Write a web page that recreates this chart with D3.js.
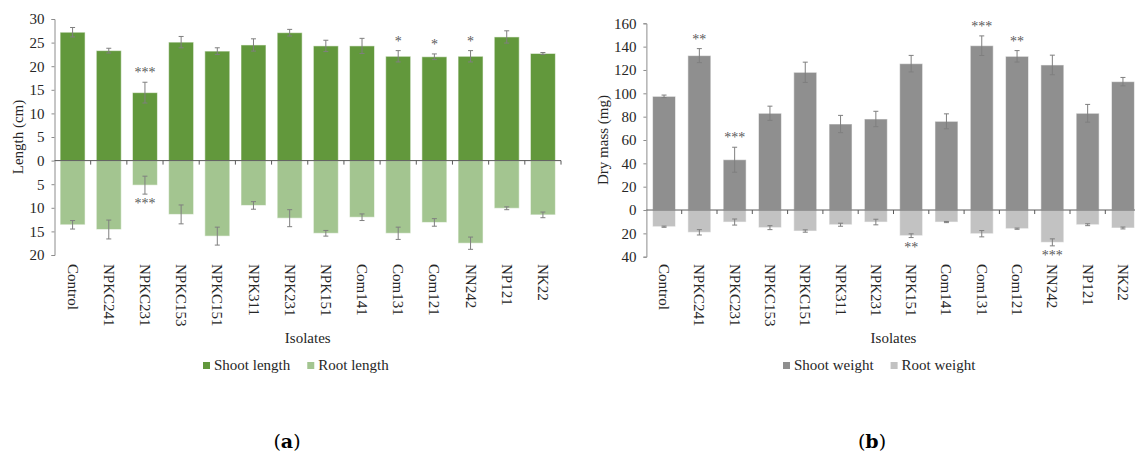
<!DOCTYPE html>
<html>
<head>
<meta charset="utf-8">
<script src="https://cdn.jsdelivr.net/npm/d3@7"></script>
<style>
    body { margin: 0; background: #fff; }
    svg text { font-family: "Liberation Serif", "Times New Roman", serif; }
    svg text.panel-letter { font-family: "DejaVu Serif", serif; font-size: 19px; fill: #000; }
    .tick-label { font-size: 15px; fill: #262626; }
    .cat-label { font-size: 15px; fill: #262626; }
    .axis-title { font-size: 15px; fill: #262626; }
    .legend-text { font-size: 15px; fill: #262626; }
    .sig { font-size: 14px; fill: #595959; }
</style>
</head>
<body>
<script>
var isolates = ['Control', 'NPKC241', 'NPKC231', 'NPKC153', 'NPKC151', 'NPK311', 'NPK231',
    'NPK151', 'Com141', 'Com131', 'Com121', 'NN242', 'NP121', 'NK22'];

// (a) lengths, cm
var shootLength    = [27.2, 23.3, 14.4, 25.1, 23.2, 24.5, 27.1, 24.3, 24.3, 22.1, 22.0, 22.1, 26.2, 22.7];
var shootLengthErr = [1.0, 0.5, 2.2, 1.2, 0.7, 1.3, 0.7, 1.2, 1.6, 1.2, 0.6, 1.2, 1.3, 0.2];
var rootLength     = [13.6, 14.6, 5.2, 11.4, 16.0, 9.5, 12.2, 15.4, 12.0, 15.4, 13.1, 17.5, 10.1, 11.5];
var rootLengthErr  = [0.9, 2.0, 1.9, 2.0, 1.9, 0.8, 1.8, 0.6, 0.7, 1.3, 0.8, 1.3, 0.3, 0.6];
var shootLengthSig = ['', '', '***', '', '', '', '', '', '', '*', '*', '*', '', ''];
var rootLengthSig  = ['', '', '***', '', '', '', '', '', '', '', '', '', '', ''];
var lengthTicks    = [-20, -15, -10, -5, 0, 5, 10, 15, 20, 25, 30];

// (b) dry mass, mg
var shootWeight    = [97.4, 132.3, 43.1, 82.9, 118.0, 73.7, 78.0, 125.4, 76.0, 140.8, 131.7, 124.3, 82.9, 110.0];
var shootWeightErr = [1.1, 6.0, 10.7, 6.1, 8.7, 7.4, 6.6, 7.1, 6.4, 8.4, 4.9, 8.4, 7.6, 3.6];
var rootWeight     = [14.3, 19.1, 10.3, 15.1, 18.0, 12.6, 10.3, 22.0, 10.3, 20.3, 16.0, 27.7, 12.6, 15.4];
var rootWeightErr  = [0.5, 2.3, 2.6, 1.7, 1.0, 1.3, 2.4, 1.6, 0.5, 2.7, 0.5, 3.0, 0.8, 0.8];
var shootWeightSig = ['', '**', '***', '', '', '', '', '', '', '***', '**', '', '', ''];
var rootWeightSig  = ['', '', '', '', '', '', '', '**', '', '', '', '***', '', ''];
var massTicks      = [-40, -20, 0, 20, 40, 60, 80, 100, 120, 140, 160];

var svg = d3.select('body').append('svg')
    .attr('width', 1135)
    .attr('height', 462);

function drawPanel(p) {
    var g = svg.append('g');

    var x = d3.scaleBand()
        .domain(isolates)
        .range([p.left, p.right])
        .paddingInner(p.pad)
        .paddingOuter(p.pad / 2);

    var y = d3.scaleLinear()
        .domain([d3.min(p.ticks), d3.max(p.ticks)])
        .range([p.bottom, p.top]);

    var rows = isolates.map(function (name, i) {
        return {
            name: name,
            shoot: p.shoot[i], shootErr: p.shootErr[i], shootSig: p.shootSig[i],
            root: p.root[i], rootErr: p.rootErr[i], rootSig: p.rootSig[i]
        };
    });

    // shoot bars go up from zero, root bars go down
    g.selectAll('rect.shoot')
        .data(rows)
        .enter().append('rect')
        .attr('class', 'shoot')
        .attr('x', function (d) { return x(d.name); })
        .attr('width', x.bandwidth())
        .attr('y', function (d) { return y(d.shoot); })
        .attr('height', function (d) { return y(0) - y(d.shoot); })
        .attr('fill', p.shootColor)
        .attr('stroke', 'rgba(255,255,255,0.55)')
        .attr('stroke-width', 1);

    g.selectAll('rect.root')
        .data(rows)
        .enter().append('rect')
        .attr('class', 'root')
        .attr('x', function (d) { return x(d.name); })
        .attr('width', x.bandwidth())
        .attr('y', y(0))
        .attr('height', function (d) { return y(-d.root) - y(0); })
        .attr('fill', p.rootColor)
        .attr('stroke', 'rgba(255,255,255,0.55)')
        .attr('stroke-width', 1);

    // error bars
    var errs = [];
    rows.forEach(function (d) {
        errs.push({ name: d.name, lo: d.shoot - d.shootErr, hi: d.shoot + d.shootErr });
        errs.push({ name: d.name, lo: -d.root - d.rootErr, hi: -d.root + d.rootErr });
    });
    var eg = g.selectAll('g.err')
        .data(errs)
        .enter().append('g')
        .attr('class', 'err')
        .attr('stroke', '#7f7f7f')
        .attr('stroke-width', 1);
    eg.append('line')
        .attr('x1', function (d) { return x(d.name) + x.bandwidth() / 2; })
        .attr('x2', function (d) { return x(d.name) + x.bandwidth() / 2; })
        .attr('y1', function (d) { return y(d.lo); })
        .attr('y2', function (d) { return y(d.hi); });
    ['lo', 'hi'].forEach(function (k) {
        eg.append('line')
            .attr('x1', function (d) { return x(d.name) + x.bandwidth() / 2 - 2.5; })
            .attr('x2', function (d) { return x(d.name) + x.bandwidth() / 2 + 2.5; })
            .attr('y1', function (d) { return y(d[k]); })
            .attr('y2', function (d) { return y(d[k]); });
    });

    // significance stars
    g.selectAll('text.sig-up')
        .data(rows.filter(function (d) { return d.shootSig; }))
        .enter().append('text')
        .attr('class', 'sig')
        .attr('text-anchor', 'middle')
        .attr('x', function (d) { return x(d.name) + x.bandwidth() / 2; })
        .attr('y', function (d) { return y(d.shoot + d.shootErr) - 5; })
        .text(function (d) { return d.shootSig; });

    g.selectAll('text.sig-down')
        .data(rows.filter(function (d) { return d.rootSig; }))
        .enter().append('text')
        .attr('class', 'sig')
        .attr('text-anchor', 'middle')
        .attr('x', function (d) { return x(d.name) + x.bandwidth() / 2; })
        .attr('y', function (d) { return y(-d.root - d.rootErr) + 14; })
        .text(function (d) { return d.rootSig; });

    // y axis, labels show absolute values
    var yAxis = d3.axisLeft(y)
        .tickValues(p.ticks)
        .tickSize(3)
        .tickPadding(7)
        .tickFormat(function (v) { return Math.abs(v); });
    var ya = g.append('g')
        .attr('transform', 'translate(' + p.left + ',0)')
        .call(yAxis)
        .attr('font-family', null)
        .attr('font-size', null);
    ya.select('.domain').attr('stroke', '#8c8c8c');
    ya.selectAll('.tick line').attr('stroke', '#8c8c8c');
    ya.selectAll('.tick text')
        .attr('class', 'tick-label')
        .attr('fill', null);

    // zero line with ticks between bands
    var bounds = isolates.map(function (n) { return x(n) - x.step() * p.pad / 2; });
    bounds.push(p.right);
    g.append('line')
        .attr('x1', p.left).attr('x2', p.right)
        .attr('y1', y(0)).attr('y2', y(0))
        .attr('stroke', '#595959');
    g.selectAll('line.btick')
        .data(bounds.slice(1))
        .enter().append('line')
        .attr('class', 'btick')
        .attr('x1', function (d) { return d; })
        .attr('x2', function (d) { return d; })
        .attr('y1', y(0))
        .attr('y2', y(0) + 4)
        .attr('stroke', '#595959');

    // category labels under the plot
    g.selectAll('text.cat-label')
        .data(isolates)
        .enter().append('text')
        .attr('class', 'cat-label')
        .attr('transform', function (d) {
            return 'translate(' + (x(d) + x.bandwidth() / 2) + ',' + p.catTop + ') rotate(90)';
        })
        .attr('dy', '0.33em')
        .text(function (d) { return d; });

    // titles
    g.append('text')
        .attr('class', 'axis-title')
        .attr('text-anchor', 'middle')
        .attr('transform', 'translate(' + p.yTitleX + ',' + (p.top + p.bottom) / 2 + ') rotate(-90)')
        .attr('dy', '0.33em')
        .text(p.yTitle);

    g.append('text')
        .attr('class', 'axis-title')
        .attr('text-anchor', 'middle')
        .attr('x', (p.left + p.right) / 2)
        .attr('y', 343)
        .text('Isolates');

    // legend
    var lx = p.legendX;
    [[p.shootName, p.shootColor], [p.rootName, p.rootColor]].forEach(function (item) {
        g.append('rect')
            .attr('x', lx).attr('y', 362)
            .attr('width', 7).attr('height', 7)
            .attr('fill', item[1]);
        var t = g.append('text')
            .attr('class', 'legend-text')
            .attr('x', lx + 11)
            .attr('y', 370)
            .text(item[0]);
        lx += 11 + t.node().getComputedTextLength() + 17;
    });

    // panel letter
    var letter = g.append('text')
        .attr('class', 'panel-letter')
        .attr('text-anchor', 'middle')
        .attr('x', p.letterX)
        .attr('y', 448);
    letter.append('tspan').text('(');
    letter.append('tspan').attr('font-weight', 'bold').text(p.letter);
    letter.append('tspan').text(')');
}

drawPanel({
    left: 54.5, right: 561, top: 19, bottom: 255, pad: 0.31,
    ticks: lengthTicks,
    shoot: shootLength, shootErr: shootLengthErr, shootSig: shootLengthSig,
    root: rootLength, rootErr: rootLengthErr, rootSig: rootLengthSig,
    shootColor: '#62983c', rootColor: '#a3c590',
    shootName: 'Shoot length', rootName: 'Root length',
    yTitle: 'Length (cm)', yTitleX: 18,
    catTop: 264, legendX: 203, letter: 'a', letterX: 287
});

drawPanel({
    left: 646.4, right: 1140.6, top: 23.3, bottom: 256.7, pad: 0.35,
    ticks: massTicks,
    shoot: shootWeight, shootErr: shootWeightErr, shootSig: shootWeightSig,
    root: rootWeight, rootErr: rootWeightErr, rootSig: rootWeightSig,
    shootColor: '#8f8f8f', rootColor: '#c2c2c2',
    shootName: 'Shoot weight', rootName: 'Root weight',
    yTitle: 'Dry mass (mg)', yTitleX: 603,
    catTop: 264, legendX: 783, letter: 'b', letterX: 872
});
</script>
</body>
</html>
